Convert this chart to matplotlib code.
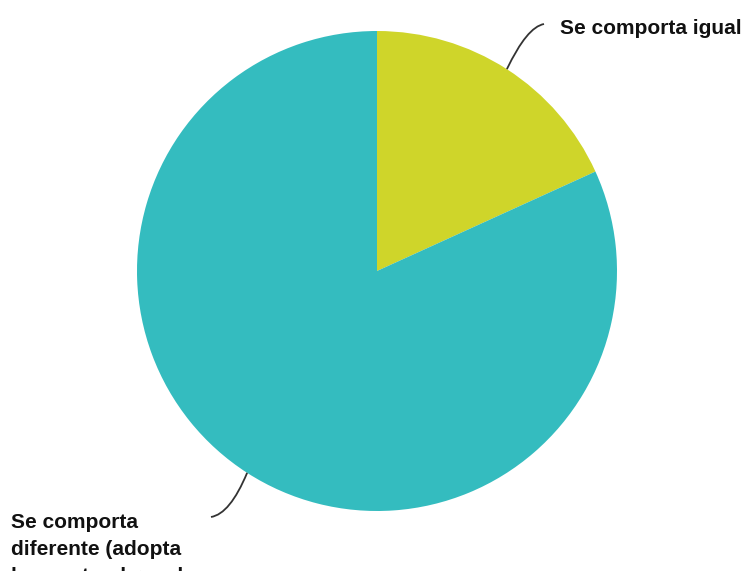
import numpy as np
import matplotlib.pyplot as plt
from matplotlib.path import Path
from matplotlib.patches import PathPatch

categories = ["Se comporta igual",
              "Se comporta\ndiferente (adopta\nlas costumbres de\nla ciudad)"]
values = [18.2, 81.8]
colors = ["#CFD52A", "#34BCBF"]

W, H = 743, 571
fig = plt.figure(figsize=(W / 100, H / 100), dpi=100)
ax = fig.add_axes([0, 0, 1, 1])

cx, cy, r = 377, H - 271, 240
wedges, _ = ax.pie(values, colors=colors, startangle=90, counterclock=False,
                   center=(cx, cy), radius=r, frame=True,
                   wedgeprops=dict(linewidth=0))
ax.set_xlim(0, W)
ax.set_ylim(0, H)
ax.set_aspect("equal")
ax.axis("off")

font = dict(family=["Liberation Sans", "DejaVu Sans"], fontweight="bold",
            fontsize=15, color="#111111")

# label placement: connector end, bezier control point, text anchor
label_specs = [
    dict(end=(544, H - 24), ctrl=(527, H - 27), text=(560, H - 29),
         ha="left", va="center"),
    dict(end=(211, H - 517), ctrl=(230, H - 514), text=(11, H - 513),
         ha="left", va="top"),
]

for w, lab, spec in zip(wedges, categories, label_specs):
    ang = np.deg2rad((w.theta1 + w.theta2) / 2)
    start = (cx + r * np.cos(ang), cy + r * np.sin(ang))
    path = Path([start, spec["ctrl"], spec["end"]],
                [Path.MOVETO, Path.CURVE3, Path.CURVE3])
    ax.add_patch(PathPatch(path, fill=False, edgecolor="#333333", lw=1.3))
    ax.text(*spec["text"], lab, ha=spec["ha"], va=spec["va"],
            linespacing=1.55, **font)

fig.savefig("out.png", dpi=100, facecolor="white")
